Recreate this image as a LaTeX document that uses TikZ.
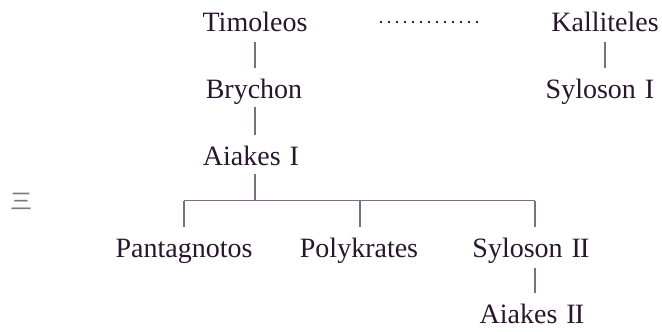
\documentclass[tikz,border=0pt]{standalone}
\usepackage{fontspec}
\setmainfont{Liberation Serif}
\newfontfamily\cjk{Noto Sans CJK SC}
\usetikzlibrary{calc}
\definecolor{txt}{HTML}{28162D}
\definecolor{ln}{HTML}{7E6D82}
\definecolor{mark}{HTML}{7A7A7A}
\newcommand{\RI}{\hspace{9pt}I}
\newcommand{\RII}{\hspace{9pt}I\kern-0.8pt I}
\begin{document}
\begin{tikzpicture}[x=1pt,y=-1pt,
  person/.style={anchor=base,inner sep=0pt,text=txt,font=\fontsize{28}{30}\selectfont},
  conn/.style={draw=ln,line width=1.1pt}]
\useasboundingbox (0,0) rectangle (662,332);
% people
\node[person] (tim) at (255,31) {Timoleos};
\node[person] (bry) at (254,98) {Brychon};
\node[person] (aia) at (251,165) {Aiakes\RI};
\node[person] (kal) at (605,31) {Kalliteles};
\node[person] (sy1) at (600,98) {Syloson\RI};
\node[person] (pan) at (184,257) {Pantagnotos};
\node[person] (pol) at (359,257) {Polykrates};
\node[person] (sy2) at (531,257) {Syloson\RII};
\node[person] (ai2) at (532,323) {Aiakes\RII};
\node[text=mark,font=\cjk\fontsize{22}{24}\selectfont,inner sep=0pt] (san) at (21,201) {三};
% connectors
\coordinate (t1) at (255,42);  \coordinate (b0) at (255,68);
\draw[conn] (t1) -- (b0);
\coordinate (b1) at (255,107); \coordinate (a0) at (255,135);
\draw[conn] (b1) -- (a0);
\coordinate (k1) at (605,42);  \coordinate (s0) at (605,68);
\draw[conn] (k1) -- (s0);
\coordinate (a1) at (255,174); \coordinate (bar) at (255,200.5);
\draw[conn] (a1) -- (bar);
\coordinate (pl) at (184,200.5); \coordinate (pr) at (535,200.5);
\draw[conn,line width=1.5pt] (pl) -- (pr);
\coordinate (p0) at (184,226.5); \coordinate (q0) at (360,226.5); \coordinate (r0) at (535,226.5);
\coordinate (q1) at (360,200.5);
\draw[conn] (pl) -- (p0);
\draw[conn] (q1) -- (q0);
\draw[conn] (pr) -- (r0);
\coordinate (s2a) at (535,268); \coordinate (s2b) at (535,293);
\draw[conn] (s2a) -- (s2b);
% dotted
\coordinate (d0) at (381,22); \coordinate (d1) at (478,22);
\draw[txt,line width=2.6pt,line cap=round,dash pattern=on 0pt off 8pt] (d0) -- (d1);
\end{tikzpicture}
\end{document}
